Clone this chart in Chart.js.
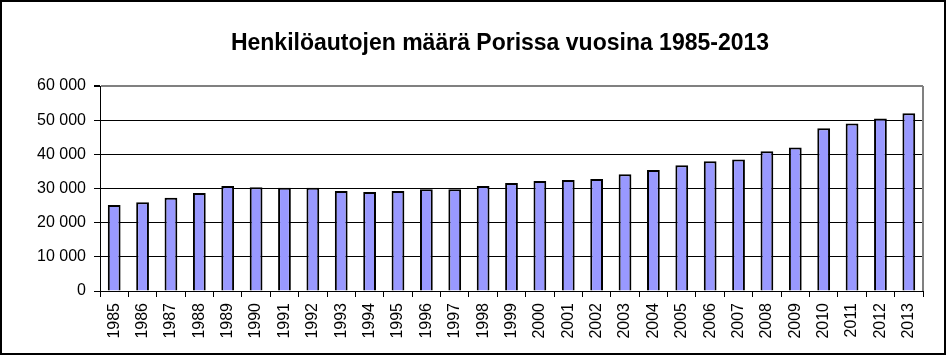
<!DOCTYPE html>
<html>
<head>
<meta charset="utf-8">
<script src="https://cdn.jsdelivr.net/npm/chart.js@4"></script>
<style>
  html, body { margin: 0; padding: 0; background: #fff; }
  #wrap { position: relative; width: 946px; height: 355px; }
</style>
</head>
<body>
<div id="wrap"><canvas id="chart" width="946" height="355"></canvas></div>
<script>
// data
const titleText = "Henkilöautojen määrä Porissa vuosina 1985-2013";
const years = ["1985","1986","1987","1988","1989","1990","1991","1992","1993","1994",
               "1995","1996","1997","1998","1999","2000","2001","2002","2003","2004",
               "2005","2006","2007","2008","2009","2010","2011","2012","2013"];
const cars = [25200, 26000, 27300, 28700, 30700, 30400, 30200, 30200, 29300, 29000,
              29300, 29800, 29800, 30700, 31600, 32200, 32500, 32800, 34200, 35400,
              36800, 38000, 38500, 40900, 42000, 47600, 49000, 50500, 52000];
const yTicks = [0, 10000, 20000, 30000, 40000, 50000, 60000];

function fmt(v){
   return String(v).replace(/\B(?=(\d{3})+(?!\d))/g, " ");
}

/* title (centred like the original, not on the canvas middle) */
const titlePlugin = {
   id: "ownTitle",
   afterDraw(chart){
      const c = chart.ctx;
      c.save();
      c.fillStyle = "#000";
      c.font = "bold 23px 'Liberation Sans', Arial, sans-serif";
      c.textAlign = "center";
      c.textBaseline = "alphabetic";
      c.fillText(titleText, 500, 50);
      c.restore();
   }
};

/* outer frame + gray plot border on the right */
const framePlugin = {
   id: "frame",
   afterDraw(chart){
      const c = chart.ctx;
      const a = chart.chartArea;
      c.save();
      c.strokeStyle = "#808080";
      c.lineWidth = 2;
      c.beginPath();
      c.moveTo(a.right, a.top);
      c.lineTo(a.right, a.bottom);
      c.stroke();
      c.strokeStyle = "#000";
      c.lineWidth = 2;
      c.strokeRect(1, 1, chart.width - 2, chart.height - 2);
      c.restore();
   }
};

new Chart(document.getElementById("chart"), {
   type: "bar",
   data: {
      labels: years,
      datasets: [{
         data: cars,
         backgroundColor: "#9999FF",
         borderColor: "#000",
         borderWidth: 2,
         barPercentage: 0.45,
         categoryPercentage: 1
      }]
   },
   options: {
      responsive: false,
      animation: false,
      layout: { padding: { left: 0, right: 23, top: 86, bottom: 0 } },
      plugins: {
         legend: { display: false },
         tooltip: { enabled: false },
         title: { display: false }
      },
      scales: {
         x: {
            grid: {
               offset: true,
               drawOnChartArea: false,
               tickLength: 6,
               tickColor: "#000"
            },
            border: { color: "#000", width: 1 },
            ticks: {
               color: "#000",
               font: { family: "Liberation Sans", size: 16 },
               minRotation: 90,
               maxRotation: 90,
               padding: 6,
               autoSkip: false
            },
            afterFit(scale){ scale.height = 64; }
         },
         y: {
            min: 0,
            max: 60000,
            afterBuildTicks(scale){
               scale.ticks = yTicks.map(v => ({ value: v }));
            },
            grid: {
               color: ctx => (ctx.tick && ctx.tick.value === 60000) ? "#808080" : "#000",
               lineWidth: ctx => (ctx.tick && ctx.tick.value === 60000) ? 2 : 1,
               tickColor: "#000",
               tickLength: 6
            },
            border: { color: "#000", width: 1 },
            ticks: {
               color: "#000",
               font: { family: "Liberation Sans", size: 16 },
               padding: 8,
               callback: v => fmt(v)
            },
            afterFit(scale){ scale.width = 100; }
         }
      }
   },
   plugins: [titlePlugin, framePlugin]
});
</script>
</body>
</html>
